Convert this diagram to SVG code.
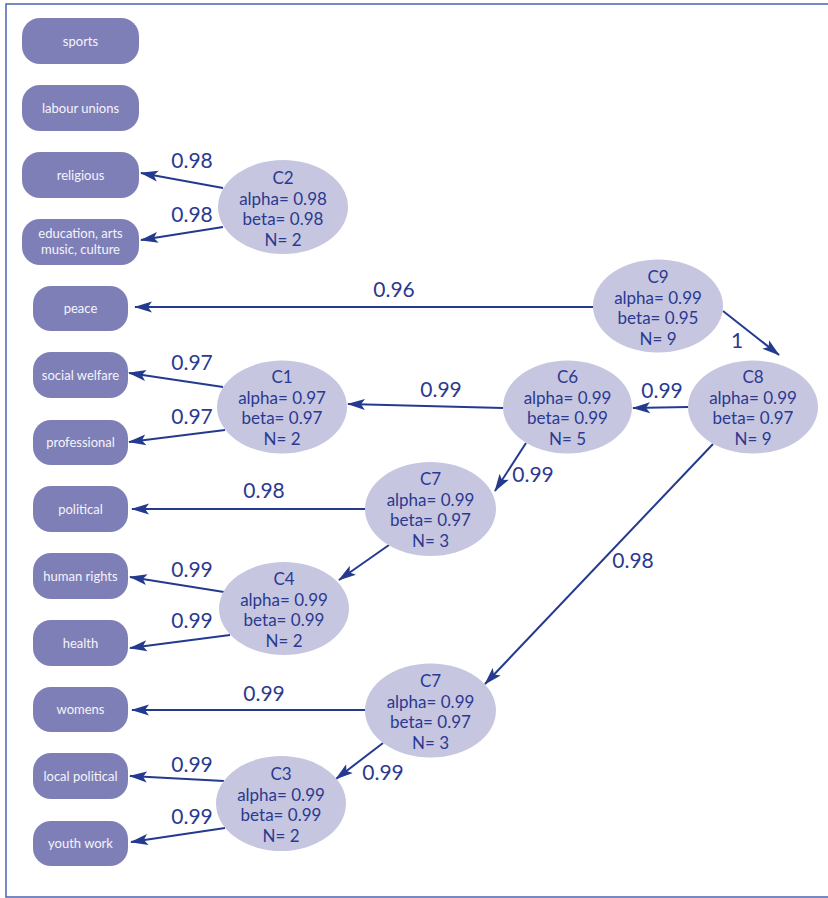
<svg xmlns="http://www.w3.org/2000/svg" width="828" height="898" viewBox="0 0 828 898">
<style>
.box{fill:#7f7fb8}
.bt{font-family:Lato,"Open Sans",sans-serif;font-size:13px;fill:#f4f4fa;text-anchor:middle}
.ell{fill:#c6c6e1}
.et{font-family:Lato,"Open Sans",sans-serif;font-size:17px;fill:#2b3990;text-anchor:middle}
.edge{stroke:#233a8f;stroke-width:2;fill:none;marker-end:url(#ah)}
.lbl{font-family:Lato,"Open Sans",sans-serif;font-size:21px;fill:#2b3990;text-anchor:middle}
</style>
<defs>
<marker id="ah" markerUnits="userSpaceOnUse" markerWidth="18" markerHeight="12" viewBox="0 0 18 12" refX="17" refY="6" orient="auto">
<path d="M0,0.5 L18,6 L0,11.5 L4,6 z" fill="#233a8f"/>
</marker>
</defs>
<rect width="828" height="898" fill="#ffffff"/>
<path d="M830,4 H6 V897 H830" fill="none" stroke="#4b62ae" stroke-width="1.5"/>

<g id="connectors">
<line class="edge" x1="223" y1="188" x2="141" y2="173"/>
<line class="edge" x1="223" y1="227" x2="141" y2="240"/>
<line class="edge" x1="593" y1="307" x2="135" y2="307"/>
<line class="edge" x1="723" y1="311" x2="779" y2="355"/>
<line class="edge" x1="688" y1="407" x2="633" y2="408"/>
<line class="edge" x1="503" y1="408" x2="348" y2="404"/>
<line class="edge" x1="526" y1="443" x2="495" y2="491"/>
<line class="edge" x1="365" y1="509" x2="132" y2="509"/>
<line class="edge" x1="389" y1="545" x2="339" y2="580"/>
<line class="edge" x1="224" y1="592" x2="130" y2="577"/>
<line class="edge" x1="230" y1="635" x2="130" y2="648"/>
<line class="edge" x1="713" y1="444" x2="485" y2="684"/>
<line class="edge" x1="365" y1="710" x2="132" y2="710"/>
<line class="edge" x1="383" y1="743" x2="336" y2="779"/>
<line class="edge" x1="224" y1="781" x2="130" y2="776"/>
<line class="edge" x1="225" y1="828" x2="131" y2="842"/>
<line class="edge" x1="223" y1="387" x2="129" y2="373"/>
<line class="edge" x1="225" y1="430" x2="129" y2="442"/>
<text class="lbl" x="192" y="168">0.98</text>
<text class="lbl" x="192" y="222">0.98</text>
<text class="lbl" x="394" y="297">0.96</text>
<text class="lbl" x="737" y="348">1</text>
<text class="lbl" x="662" y="398">0.99</text>
<text class="lbl" x="441" y="397">0.99</text>
<text class="lbl" x="533" y="482">0.99</text>
<text class="lbl" x="264" y="498">0.98</text>
<text class="lbl" x="192" y="577">0.99</text>
<text class="lbl" x="192" y="628">0.99</text>
<text class="lbl" x="633" y="568">0.98</text>
<text class="lbl" x="264" y="701">0.99</text>
<text class="lbl" x="383" y="780">0.99</text>
<text class="lbl" x="192" y="772">0.99</text>
<text class="lbl" x="192" y="824">0.99</text>
<text class="lbl" x="192" y="370">0.97</text>
<text class="lbl" x="192" y="424">0.97</text>
</g>

<g id="sports"><rect class="box" x="22" y="18" width="117" height="46" rx="18"/><text class="bt" x="80.5" y="45.5">sports</text></g>
<g id="labour-unions"><rect class="box" x="22" y="85" width="117" height="46" rx="18"/><text class="bt" x="80.5" y="112.5">labour unions</text></g>
<g id="religious"><rect class="box" x="22" y="152" width="117" height="46" rx="18"/><text class="bt" x="80.5" y="179.5">religious</text></g>
<g id="education"><rect class="box" x="22" y="219" width="117" height="46" rx="18"/><text class="bt" x="80.5" y="238">education, arts</text><text class="bt" x="80.5" y="254">music, culture</text></g>
<g id="peace"><rect class="box" x="33" y="286" width="95" height="45" rx="18"/><text class="bt" x="80.5" y="313">peace</text></g>
<g id="social-welfare"><rect class="box" x="33" y="352" width="95" height="46" rx="18"/><text class="bt" x="80.5" y="379.5">social welfare</text></g>
<g id="professional"><rect class="box" x="33" y="420" width="95" height="45" rx="18"/><text class="bt" x="80.5" y="447">professional</text></g>
<g id="political"><rect class="box" x="33" y="486" width="95" height="46" rx="18"/><text class="bt" x="80.5" y="513.5">political</text></g>
<g id="human-rights"><rect class="box" x="33" y="553" width="95" height="46" rx="18"/><text class="bt" x="80.5" y="580.5">human rights</text></g>
<g id="health"><rect class="box" x="33" y="620" width="95" height="46" rx="18"/><text class="bt" x="80.5" y="647.5">health</text></g>
<g id="womens"><rect class="box" x="33" y="687" width="95" height="45" rx="18"/><text class="bt" x="80.5" y="714">womens</text></g>
<g id="local-political"><rect class="box" x="33" y="753" width="95" height="46" rx="18"/><text class="bt" x="80.5" y="780.5">local political</text></g>
<g id="youth-work"><rect class="box" x="33" y="821" width="95" height="45" rx="18"/><text class="bt" x="80.5" y="848">youth work</text></g>

<g id="C2"><ellipse class="ell" cx="283" cy="207" rx="65" ry="47"/><text class="et" x="283" y="184">C2</text><text class="et" x="283" y="204.5">alpha= 0.98</text><text class="et" x="283" y="225">beta= 0.98</text><text class="et" x="283" y="245.5">N= 2</text></g>
<g id="C9"><ellipse class="ell" cx="658" cy="306" rx="65" ry="46.5"/><text class="et" x="658" y="283">C9</text><text class="et" x="658" y="303.5">alpha= 0.99</text><text class="et" x="658" y="324">beta= 0.95</text><text class="et" x="658" y="344.5">N= 9</text></g>
<g id="C1"><ellipse class="ell" cx="282" cy="407" rx="65" ry="46.5"/><text class="et" x="282" y="383">C1</text><text class="et" x="282" y="403.5">alpha= 0.97</text><text class="et" x="282" y="424">beta= 0.97</text><text class="et" x="282" y="444.5">N= 2</text></g>
<g id="C6"><ellipse class="ell" cx="567.5" cy="407" rx="64.5" ry="46.5"/><text class="et" x="567.5" y="383">C6</text><text class="et" x="567.5" y="403.5">alpha= 0.99</text><text class="et" x="567.5" y="424">beta= 0.99</text><text class="et" x="567.5" y="444.5">N= 5</text></g>
<g id="C8"><ellipse class="ell" cx="753" cy="407" rx="65" ry="46.5"/><text class="et" x="753" y="383">C8</text><text class="et" x="753" y="403.5">alpha= 0.99</text><text class="et" x="753" y="424">beta= 0.97</text><text class="et" x="753" y="444.5">N= 9</text></g>
<g id="C7a"><ellipse class="ell" cx="430.5" cy="509" rx="65.5" ry="47"/><text class="et" x="430.5" y="485">C7</text><text class="et" x="430.5" y="505.5">alpha= 0.99</text><text class="et" x="430.5" y="526">beta= 0.97</text><text class="et" x="430.5" y="546.5">N= 3</text></g>
<g id="C4"><ellipse class="ell" cx="284" cy="608.5" rx="65" ry="46.5"/><text class="et" x="284" y="585">C4</text><text class="et" x="284" y="605.5">alpha= 0.99</text><text class="et" x="284" y="626">beta= 0.99</text><text class="et" x="284" y="646.5">N= 2</text></g>
<g id="C7b"><ellipse class="ell" cx="430.5" cy="710.5" rx="65.5" ry="47"/><text class="et" x="430.5" y="687">C7</text><text class="et" x="430.5" y="707.5">alpha= 0.99</text><text class="et" x="430.5" y="728">beta= 0.97</text><text class="et" x="430.5" y="748.5">N= 3</text></g>
<g id="C3"><ellipse class="ell" cx="281" cy="803.5" rx="65" ry="47.5"/><text class="et" x="281" y="780">C3</text><text class="et" x="281" y="800.5">alpha= 0.99</text><text class="et" x="281" y="821">beta= 0.99</text><text class="et" x="281" y="841.5">N= 2</text></g>
</svg>
